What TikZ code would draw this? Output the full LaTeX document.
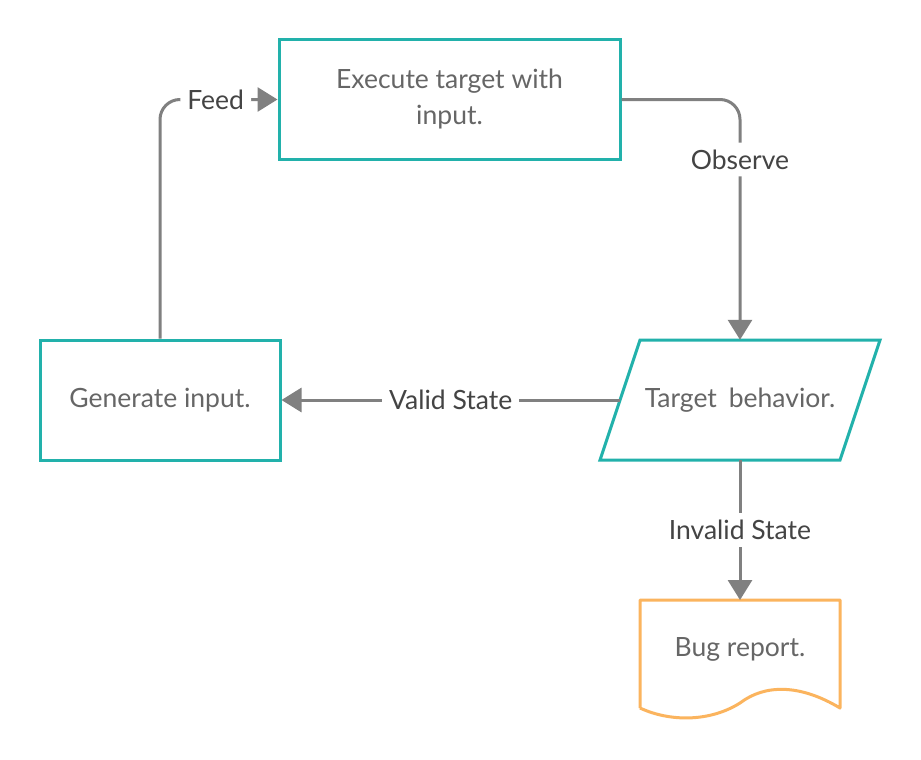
\documentclass[tikz,border=0pt]{standalone}
\usepackage{fontspec}
\setmainfont{Lato}
\usetikzlibrary{arrows.meta}
\definecolor{tealc}{HTML}{22B1AB}
\definecolor{orangec}{HTML}{FBB45E}
\definecolor{linec}{HTML}{808080}
\definecolor{nodetext}{HTML}{666666}
\definecolor{labeltext}{HTML}{444444}
\tikzset{
  boxnode/.style={draw=tealc, line width=3pt, minimum width=#1, inner sep=0pt, text=nodetext, align=center, font=\fontsize{26.5}{36}\selectfont},
  plain/.style={draw=none, inner sep=0pt, text=nodetext, align=center, font=\fontsize{26.5}{36}\selectfont},
  conn/.style={draw=linec, line width=3pt, -{Triangle[length=20pt,width=24pt]}},
  lbl/.style={fill=white, inner sep=7pt, text=labeltext, font=\fontsize{26.5}{30}\selectfont},
}
\begin{document}
\begin{tikzpicture}[x=1pt,y=-1pt]
\useasboundingbox[fill=white] (0,0) rectangle (921,760);
% nodes
\node[boxnode=341pt, minimum height=119pt] (exec) at (449.5,99.5) {\rule{0pt}{6pt}Execute target with\\input.};
\node[boxnode=240pt, minimum height=120pt] (gen) at (160,400) {Generate input.};
% parallelogram
\draw[draw=tealc, line width=3pt, line join=miter] (640,340) -- (880,340) -- (840,460) -- (600,460) -- cycle;
\node[plain, minimum width=200pt, minimum height=120pt] (tb) at (740,400) {Target\hspace{0.45em}behavior.};
\coordinate (tbw) at (620,400);
% document
\draw[draw=orangec, line width=3pt, line join=round] (640,708) -- (640,600) -- (840,600) -- (840,708)
  .. controls (800,684) and (765,684) .. (740,703)
  .. controls (710,722) and (670,722) .. (640,708);
\node[plain, minimum width=200pt, minimum height=0pt] (bug) at (740,649) {Bug report.};
\coordinate (bugn) at (740,600);
% connectors
\draw[conn, rounded corners=20pt] (gen.north) |- (exec.west) node[lbl, pos=0.737] {Feed};
\draw[conn, rounded corners=20pt] (exec.east) -| (tb.north) node[lbl, pos=0.625] {Observe};
\draw[conn] (tbw) -- (gen.east) node[lbl, midway] {Valid State};
\draw[conn] (tb.south) -- (bugn) node[lbl, midway] {Invalid State};
\end{tikzpicture}
\end{document}
